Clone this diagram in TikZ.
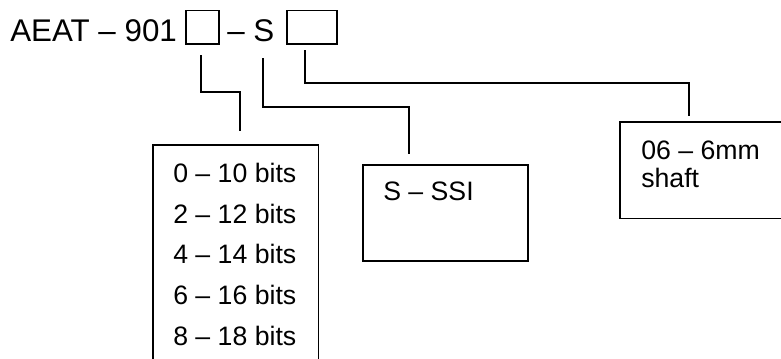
\documentclass[tikz,border=0pt]{standalone}
\usepackage{fontspec}
\setmainfont{Liberation Sans}
\begin{document}
\begin{tikzpicture}[x=0.75pt,y=-0.75pt,
  box/.style={draw, line width=1.4pt, inner sep=0pt, anchor=north west},
  openbox/.style={inner sep=0pt, anchor=north west},
  conn/.style={draw, line width=1.4pt},
  bigtxt/.style={inner sep=0pt, anchor=base west, font=\fontsize{23.5}{28}\selectfont},
  lbl/.style={inner sep=0pt, anchor=base west, font=\fontsize{20}{24}\selectfont}]
\useasboundingbox (0,0) rectangle (781,358);
\clip (0,0) rectangle (781,358);
% header
\node[bigtxt] (title) at (10,41) {AEAT – 901};
\node[box, minimum width=24.75pt, minimum height=25.1pt] (b1) at (185,9.5) {};
\node[bigtxt] (ds) at (227,41) {– S};
\node[box, minimum width=37.5pt, minimum height=25.1pt] (b2) at (286,9.5) {};
% boxes (bits and shaft run past the picture's edges)
\node[openbox, minimum width=123.75pt, minimum height=250pt] (bits) at (153,145) {};
\draw[conn] (bits.south west) -- (bits.north west) -- (bits.north east) -- (bits.south east);
\node[box, minimum width=123.75pt, minimum height=72pt] (ssi) at (362,164) {};
\node[openbox, minimum width=250pt, minimum height=72pt] (shaft) at (620,122) {};
\draw[conn] (shaft.north east) -- (shaft.north west) -- (shaft.south west) -- (shaft.south east);
% texts
\node[lbl] (t0) at (173,182) {0 – 10 bits};
\node[lbl] (t2) at (173,223) {2 – 12 bits};
\node[lbl] (t4) at (173,263.5) {4 – 14 bits};
\node[lbl] (t6) at (173,304) {6 – 16 bits};
\node[lbl] (t8) at (173,345) {8 – 18 bits};
\node[lbl] (ts) at (383,200) {S – SSI};
\node[lbl] (tm1) at (641,159) {06 – 6mm};
\node[lbl] (tm2) at (641,187) {shaft};
% connectors
\coordinate (c1s) at (201,55);
\coordinate (c1k) at (240,92);
\coordinate (c1e) at (240,131);
\coordinate (c2s) at (263,58);
\coordinate (c2k) at (409,107);
\coordinate (c2e) at (409,154);
\coordinate (c3s) at (305,50);
\coordinate (c3k) at (689,83);
\coordinate (c3e) at (689,116);
\draw[conn] (c1s) |- (c1k) -- (c1e);
\draw[conn] (c2s) |- (c2k) -- (c2e);
\draw[conn] (c3s) |- (c3k) -- (c3e);
\end{tikzpicture}
\end{document}
